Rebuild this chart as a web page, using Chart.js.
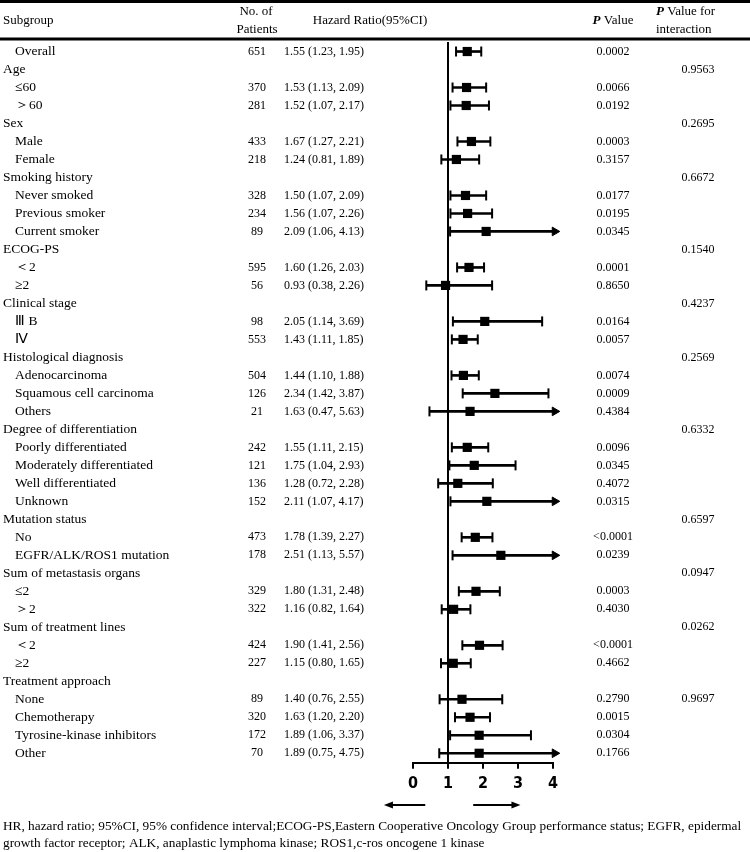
<!DOCTYPE html>
<html>
<head>
<meta charset="utf-8">
<script src="https://cdn.jsdelivr.net/npm/chart.js@4.4.1/dist/chart.umd.min.js"></script>
<style>
  html, body { margin: 0; padding: 0; background: #fff; }
  #wrap { position: relative; width: 750px; height: 852px; }
</style>
</head>
<body>
<div id="wrap"><canvas id="forest"></canvas></div>
<script>
  //=======================================================//
  // data (null = group heading row)

  const subgroups = ['Overall', 'Age', '≤60', '＞60', 'Sex', 'Male', 'Female',
    'Smoking history', 'Never smoked', 'Previous smoker', 'Current smoker',
    'ECOG-PS', '＜2', '≥2', 'Clinical stage', 'Ⅲ B', 'Ⅳ',
    'Histological diagnosis', 'Adenocarcinoma', 'Squamous cell carcinoma', 'Others',
    'Degree of differentiation', 'Poorly differentiated', 'Moderately differentiated',
    'Well differentiated', 'Unknown', 'Mutation status', 'No', 'EGFR/ALK/ROS1 mutation',
    'Sum of metastasis organs', '≤2', '＞2', 'Sum of treatment lines', '＜2', '≥2',
    'Treatment approach', 'None', 'Chemotherapy', 'Tyrosine-kinase inhibitors', 'Other'];

  const patients = [651, null, 370, 281, null, 433, 218, null, 328, 234, 89,
    null, 595, 56, null, 98, 553, null, 504, 126, 21, null, 242, 121, 136, 152,
    null, 473, 178, null, 329, 322, null, 424, 227, null, 89, 320, 172, 70];

  const hazard = [1.55, null, 1.53, 1.52, null, 1.67, 1.24, null, 1.50, 1.56, 2.09,
    null, 1.60, 0.93, null, 2.05, 1.43, null, 1.44, 2.34, 1.63, null, 1.55, 1.75, 1.28, 2.11,
    null, 1.78, 2.51, null, 1.80, 1.16, null, 1.90, 1.15, null, 1.40, 1.63, 1.89, 1.89];

  const ciLow = [1.23, null, 1.13, 1.07, null, 1.27, 0.81, null, 1.07, 1.07, 1.06,
    null, 1.26, 0.38, null, 1.14, 1.11, null, 1.10, 1.42, 0.47, null, 1.11, 1.04, 0.72, 1.07,
    null, 1.39, 1.13, null, 1.31, 0.82, null, 1.41, 0.80, null, 0.76, 1.20, 1.06, 0.75];

  const ciHigh = [1.95, null, 2.09, 2.17, null, 2.21, 1.89, null, 2.09, 2.26, 4.13,
    null, 2.03, 2.26, null, 3.69, 1.85, null, 1.88, 3.87, 5.63, null, 2.15, 2.93, 2.28, 4.17,
    null, 2.27, 5.57, null, 2.48, 1.64, null, 2.56, 1.65, null, 2.55, 2.20, 3.37, 4.75];

  const pValues = ['0.0002', '', '0.0066', '0.0192', '', '0.0003', '0.3157', '',
    '0.0177', '0.0195', '0.0345', '', '0.0001', '0.8650', '', '0.0164', '0.0057', '',
    '0.0074', '0.0009', '0.4384', '', '0.0096', '0.0345', '0.4072', '0.0315', '',
    '<0.0001', '0.0239', '', '0.0003', '0.4030', '', '<0.0001', '0.4662', '',
    '0.2790', '0.0015', '0.0304', '0.1766'];

  const pInteraction = ['', '0.9563', '', '', '0.2695', '', '', '0.6672', '', '', '',
    '0.1540', '', '', '0.4237', '', '', '0.2569', '', '', '', '0.6332', '', '', '', '',
    '0.6597', '', '', '0.0947', '', '', '0.0262', '', '', '', '0.9697', '', '', ''];

  const xTicks = [0, 1, 2, 3, 4];

  const footnote = [
    'HR, hazard ratio; 95%CI, 95% confidence interval;ECOG-PS,Eastern Cooperative Oncology Group performance status; EGFR, epidermal',
    'growth factor receptor; ALK, anaplastic lymphoma kinase; ROS1,c-ros oncogene 1 kinase'
  ];

  //=======================================================//
  // build the datasets

  const AXIS_MAX = xTicks[xTicks.length - 1];
  const ARROW_TIP = 4.2;      // where clipped intervals end
  const ARROW_BACK = 0.15;    // centre of the arrow head, back from the tip

  const ciBars = [];
  const caps = [];
  const arrows = [];
  const squares = [];
  hazard.forEach((v, i) => {
    if (v === null) return;
    const clipped = ciHigh[i] > AXIS_MAX;
    const right = clipped ? ARROW_TIP - ARROW_BACK : ciHigh[i];
    ciBars.push({ y: i, x: [ciLow[i], right] });
    caps.push({ x: ciLow[i], y: i });
    if (clipped) {
      arrows.push({ x: ARROW_TIP - ARROW_BACK, y: i });
    } else {
      caps.push({ x: ciHigh[i], y: i });
    }
    squares.push({ x: v, y: i });
  });

  const serif = "'Liberation Serif', 'Times New Roman', serif";

  //=======================================================//
  // table text, rules and the reference line

  const tablePlugin = {
    id: 'tableText',
    afterDraw(chart) {
      const { ctx, chartArea, scales: { x, y } } = chart;
      const line = (x0, y0, x1, y1) => {
        ctx.beginPath(); ctx.moveTo(x0, y0); ctx.lineTo(x1, y1); ctx.stroke();
      };
      ctx.save();
      ctx.fillStyle = '#000';
      ctx.strokeStyle = '#000';

      // top and header rules
      ctx.lineWidth = 3;
      line(0, 1.5, 750, 1.5);
      line(0, 39, 750, 39);

      // line of no effect
      const x1 = x.getPixelForValue(1);
      ctx.lineWidth = 2;
      line(x1, chartArea.top + 2, x1, chartArea.bottom);

      // header
      ctx.textBaseline = 'middle';
      ctx.font = '13px ' + serif;
      ctx.textAlign = 'left';
      ctx.fillText('Subgroup', 3, 21);
      ctx.textAlign = 'center';
      ctx.fillText('No. of', 256, 12);
      ctx.fillText('Patients', 257, 30);
      ctx.fillText('Hazard Ratio(95%CI)', 370, 21);

      const boldP = 'bold italic 13px ' + serif;
      const plain = '13px ' + serif;
      ctx.textAlign = 'left';
      ctx.font = boldP;
      const pw = ctx.measureText('P').width;
      ctx.font = plain;
      const vw = ctx.measureText(' Value').width;
      const px0 = 613 - (pw + vw) / 2;
      ctx.font = boldP; ctx.fillText('P', px0, 21);
      ctx.font = plain; ctx.fillText(' Value', px0 + pw, 21);
      ctx.font = boldP; ctx.fillText('P', 656, 12);
      ctx.font = plain; ctx.fillText(' Value for', 656 + pw, 12);
      ctx.fillText('interaction', 656, 30);

      // rows
      subgroups.forEach((name, i) => {
        const yy = y.getPixelForValue(i);
        ctx.font = '13.5px ' + serif;
        ctx.textAlign = 'left';
        ctx.fillText(name, patients[i] === null ? 3 : 15, yy);
        ctx.font = '12px ' + serif;
        if (patients[i] !== null) {
          ctx.textAlign = 'center';
          ctx.fillText(String(patients[i]), 257, yy);
          ctx.textAlign = 'left';
          ctx.fillText(hazard[i].toFixed(2) + ' (' + ciLow[i].toFixed(2) + ', ' + ciHigh[i].toFixed(2) + ')', 284, yy);
        }
        ctx.textAlign = 'center';
        if (pValues[i]) ctx.fillText(pValues[i], 613, yy);
        if (pInteraction[i]) ctx.fillText(pInteraction[i], 698, yy);
      });

      // direction arrows under the axis
      const arrowY = 805;
      const drawArrow = (from, to) => {
        const a = x.getPixelForValue(from);
        const b = x.getPixelForValue(to);
        const dir = Math.sign(b - a);
        ctx.lineWidth = 2;
        line(a, arrowY, b - dir * 6, arrowY);
        ctx.beginPath();
        ctx.moveTo(b, arrowY);
        ctx.lineTo(b - dir * 9, arrowY - 3.5);
        ctx.lineTo(b - dir * 9, arrowY + 3.5);
        ctx.closePath();
        ctx.fill();
      };
      drawArrow(0.35, -0.83);
      drawArrow(1.72, 3.07);

      // footnote
      ctx.font = '13.3px ' + serif;
      ctx.textAlign = 'left';
      ctx.fillText(footnote[0], 3, 827);
      ctx.fillText(footnote[1], 3, 844);
      ctx.restore();
    }
  };

  //=======================================================//
  // forest plot

  const ctx = document.getElementById('forest');
  new Chart(ctx, {
    type: 'scatter',
    data: {
      datasets: [
        {
          type: 'bar',
          label: 'CI',
          data: ciBars,
          backgroundColor: '#000',
          borderWidth: 0,
          barThickness: 2,
          clip: false
        },
        {
          label: 'caps',
          data: caps,
          pointStyle: 'line',
          pointRotation: 90,
          pointRadius: 5,
          pointHoverRadius: 5,
          pointBorderWidth: 2,
          pointBorderColor: '#000',
          clip: false
        },
        {
          label: 'arrows',
          data: arrows,
          pointStyle: 'triangle',
          pointRotation: 90,
          pointRadius: 5,
          pointHoverRadius: 5,
          pointBorderWidth: 1,
          pointBorderColor: '#000',
          pointBackgroundColor: '#000',
          clip: false
        },
        {
          label: 'HR',
          data: squares,
          pointStyle: 'rect',
          pointRadius: 6.5,
          pointHoverRadius: 6.5,
          pointBorderWidth: 0,
          pointBackgroundColor: '#000',
          clip: false
        }
      ]
    },
    options: {
      indexAxis: 'y',
      responsive: true,
      maintainAspectRatio: false,
      animation: false,
      events: [],
      layout: {
        padding: { left: 413, right: 197, top: 40, bottom: 54 }
      },
      scales: {
        x: {
          type: 'linear',
          min: xTicks[0],
          max: AXIS_MAX,
          offset: false,
          afterBuildTicks: axis => { axis.ticks = xTicks.map(v => ({ value: v })); },
          border: { display: true, color: '#000', width: 2 },
          grid: {
            display: true,
            drawOnChartArea: false,
            drawTicks: true,
            tickLength: 6,
            color: '#000',
            lineWidth: 2
          },
          ticks: {
            color: '#000',
            padding: 5,
            font: { family: "'Liberation Sans Narrow', 'DejaVu Sans Condensed', sans-serif", size: 16, weight: 'bold' }
          }
        },
        y: {
          type: 'linear',
          display: false,
          reverse: true,
          offset: false,
          min: -0.64,
          max: 39.53
        }
      },
      plugins: {
        legend: { display: false },
        tooltip: { enabled: false }
      }
    },
    plugins: [tablePlugin]
  });
</script>
</body>
</html>
